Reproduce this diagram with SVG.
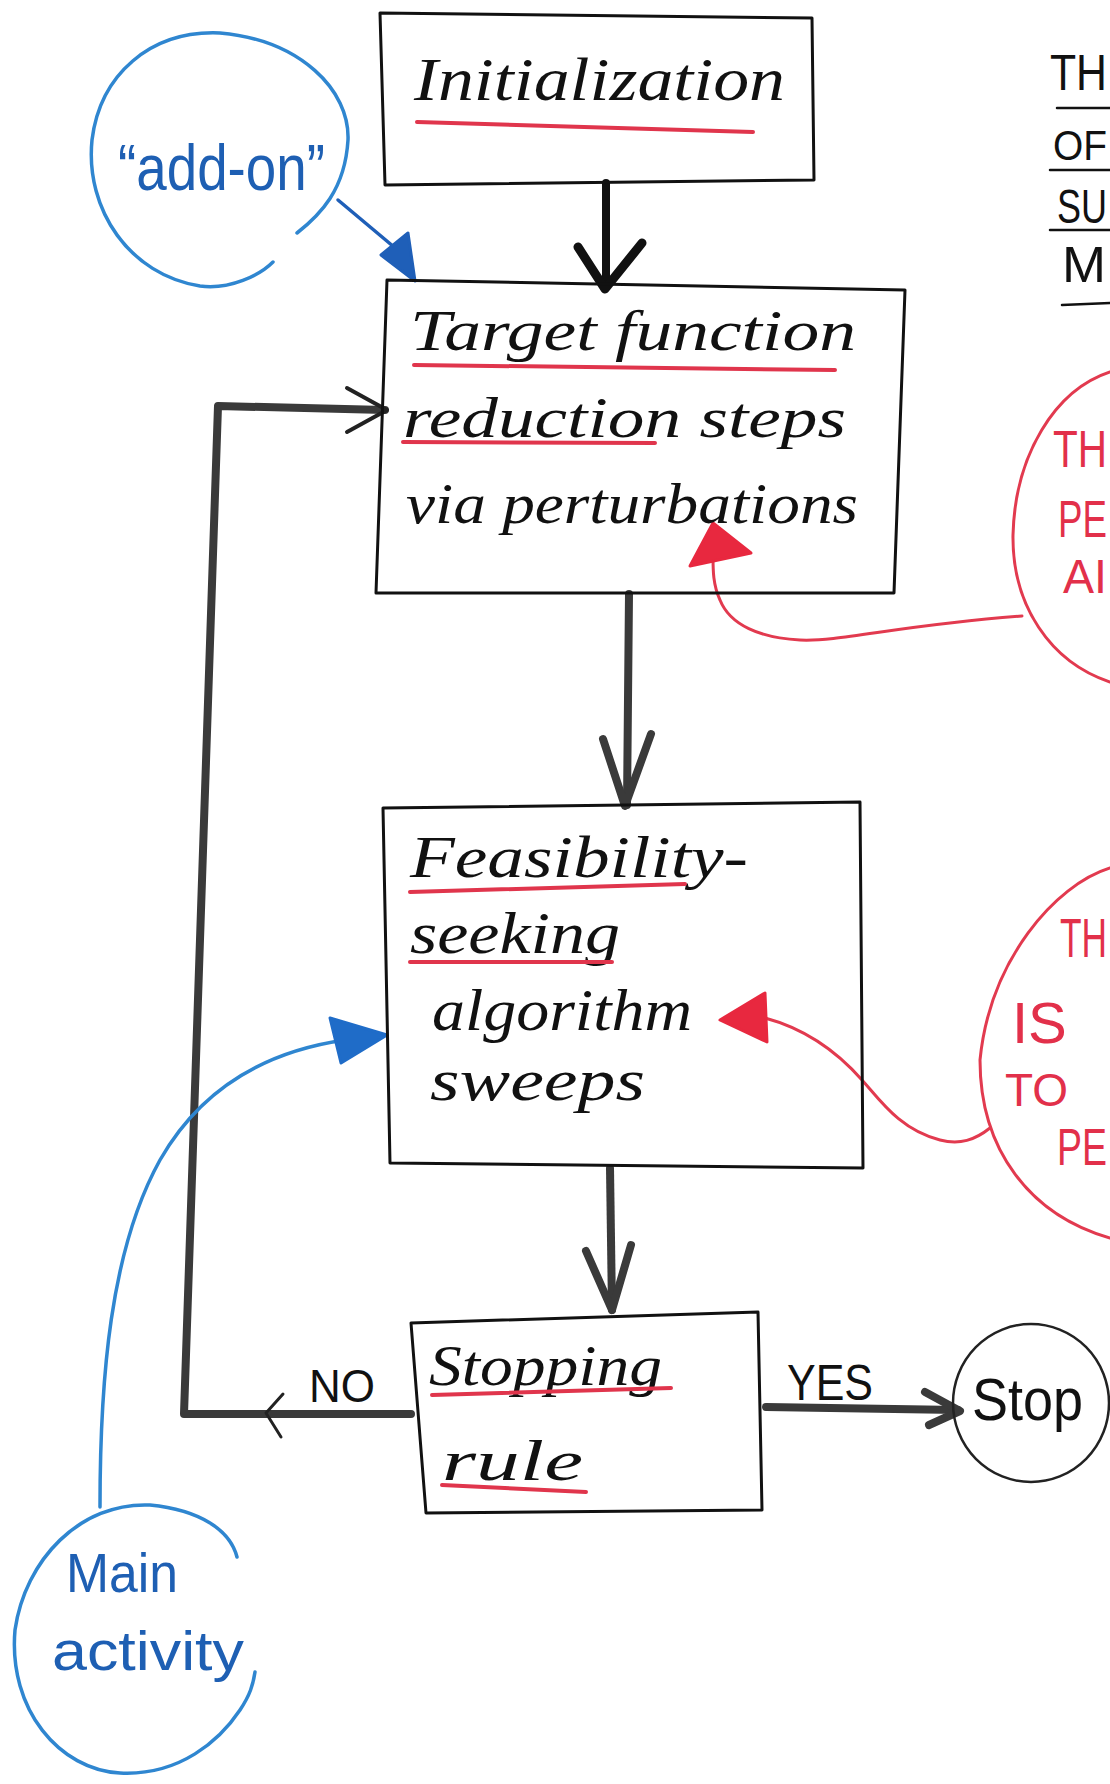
<svg xmlns="http://www.w3.org/2000/svg" width="1110" height="1784" viewBox="0 0 1110 1784">
<style>
.box{fill:none;stroke:#111;stroke-width:3;stroke-linejoin:round}
.hand{font-family:"Liberation Serif","DejaVu Serif",serif;font-style:italic;fill:#111}
.ul{stroke:#e0354c;stroke-width:4;stroke-linecap:round;fill:none}
.redt{font-family:"Liberation Sans","DejaVu Sans",sans-serif;fill:#e2304a}
.redl{fill:none;stroke:#e23a4f;stroke-width:3;stroke-linecap:round}
.bluel{fill:none;stroke:#2f86d0;stroke-width:3.5;stroke-linecap:round}
.bluet{font-family:"Liberation Sans","DejaVu Sans",sans-serif;fill:#1e5fb3}
.blk{font-family:"Liberation Sans","DejaVu Sans",sans-serif;fill:#111}
.conn{fill:none;stroke:#3a3a3a;stroke-width:8;stroke-linecap:round;stroke-linejoin:round}
.thin{fill:none;stroke:#222;stroke-width:3;stroke-linecap:round;stroke-linejoin:round}
.tl{stroke:#111;stroke-width:2.5;stroke-linecap:round}
</style>
<rect width="1110" height="1784" fill="#fff"/>

<g id="connectors">
  <!-- Init -> Target -->
  <path class="conn" d="M606,183 L606,286" style="stroke:#111"/>
  <path class="conn" d="M578,247 L605,289 L642,243" style="stroke:#111;stroke-width:9"/>
  <!-- Target -> Feasibility -->
  <path class="conn" d="M629,594 L627,805"/>
  <path class="conn" d="M603,739 L625,806 L651,734"/>
  <!-- Feasibility -> Stopping -->
  <path class="conn" d="M610,1168 L612,1310"/>
  <path class="conn" d="M586,1251 L612,1310 L631,1245"/>
  <!-- NO loop back -->
  <path class="conn" d="M411,1414 L184,1414 L218,406 L385,410"/>
  <path class="thin" d="M283,1394 L266,1413 L281,1437"/>
  <path class="thin" d="M347,388 L387,410 L347,432" style="stroke-width:4"/>
  <!-- YES -->
  <path class="conn" d="M766,1407 L958,1410"/>
  <path class="conn" d="M925,1392 L960,1411 L929,1425"/>
  <!-- red arrow 1 -->
  <path class="redl" d="M1022,616 C 900,625 840,642 800,640 C 760,638 730,625 720,600 C 713,585 713,570 713,556"/>
  <polygon points="713,523 690,566 751,553" fill="#e8283f" stroke="#e8283f" stroke-width="3" stroke-linejoin="round"/>
  <!-- red arrow 2 -->
  <path class="redl" d="M990,1128 C 975,1140 960,1145 940,1140 C 900,1130 880,1100 862,1080 C 840,1055 810,1030 765,1018"/>
  <polygon points="720,1020 765,993 767,1042" fill="#e8283f" stroke="#e8283f" stroke-width="3" stroke-linejoin="round"/>
  <!-- blue add-on arrow -->
  <path class="bluel" d="M338,200 L394,247" style="stroke:#1f5fb8"/>
  <polygon points="381,255 408,233 415,281" fill="#1f5fb8" stroke="#1f5fb8" stroke-width="3" stroke-linejoin="round"/>
  <!-- blue main activity arrow -->
  <path class="bluel" d="M100,1507 C 100,1380 110,1250 160,1160 C 200,1090 262,1052 345,1040"/>
  <polygon points="387,1035 330,1018 341,1063" fill="#1f6cc8" stroke="#1f6cc8" stroke-width="3" stroke-linejoin="round"/>
</g>

<g id="init">
  <polygon class="box" points="380,13 812,18 814,180 385,185"/>
  <text class="hand" x="414" y="100" font-size="62" textLength="371" lengthAdjust="spacingAndGlyphs">Initialization</text>
  <path class="ul" d="M417,122 L753,132"/>
</g>

<g id="target">
  <polygon class="box" points="387,280 905,290 894,593 376,593"/>
  <text class="hand" x="410" y="350" font-size="56" textLength="446" lengthAdjust="spacingAndGlyphs">Target function</text>
  <text class="hand" x="403" y="437" font-size="56" textLength="443" lengthAdjust="spacingAndGlyphs">reduction steps</text>
  <text class="hand" x="406" y="523" font-size="56" textLength="452" lengthAdjust="spacingAndGlyphs">via perturbations</text>
  <path class="ul" d="M414,365 L835,370"/>
  <path class="ul" d="M403,442 L655,443"/>
</g>

<g id="feasibility">
  <polygon class="box" points="383,808 860,802 863,1168 390,1163"/>
  <text class="hand" x="410" y="877" font-size="60" textLength="338" lengthAdjust="spacingAndGlyphs">Feasibility-</text>
  <text class="hand" x="410" y="953" font-size="60" textLength="210" lengthAdjust="spacingAndGlyphs">seeking</text>
  <text class="hand" x="432" y="1030" font-size="60" textLength="260" lengthAdjust="spacingAndGlyphs">algorithm</text>
  <text class="hand" x="430" y="1100" font-size="60" textLength="215" lengthAdjust="spacingAndGlyphs">sweeps</text>
  <path class="ul" d="M410,892 L685,884"/>
  <path class="ul" d="M410,962 L612,962"/>
</g>

<g id="stopping-rule">
  <polygon class="box" points="411,1323 758,1312 762,1510 426,1513"/>
  <text class="hand" x="429" y="1385" font-size="58" textLength="233" lengthAdjust="spacingAndGlyphs">Stopping</text>
  <text class="hand" x="442" y="1480" font-size="58" textLength="141" lengthAdjust="spacingAndGlyphs">rule</text>
  <path class="ul" d="M432,1395 L671,1388"/>
  <path class="ul" d="M442,1485 L586,1492"/>
</g>

<g id="labels">
  <text class="blk" x="309" y="1402" font-size="46" textLength="66" lengthAdjust="spacingAndGlyphs">NO</text>
  <text class="blk" x="787" y="1400" font-size="50" textLength="86" lengthAdjust="spacingAndGlyphs">YES</text>
</g>

<g id="stop">
  <ellipse cx="1031" cy="1403" rx="78" ry="79" fill="none" stroke="#222" stroke-width="2.5"/>
  <text class="blk" x="972" y="1420" font-size="60" textLength="111" lengthAdjust="spacingAndGlyphs">Stop</text>
</g>

<g id="add-on">
  <path class="bluel" d="M297,233 C 320,215 345,190 348,140 C 350,90 300,40 220,33 C 150,30 100,75 92,140 C 85,210 130,275 200,286 C 230,290 260,275 273,262"/>
  <text class="bluet" x="118" y="190" font-size="64" textLength="207" lengthAdjust="spacingAndGlyphs">“add-on”</text>
</g>

<g id="main-activity">
  <path class="bluel" d="M237,1557 C 230,1530 200,1510 150,1505 C 80,1502 25,1560 15,1630 C 8,1710 60,1770 120,1773 C 180,1776 220,1740 240,1710 C 250,1695 253,1685 255,1672"/>
  <text class="bluet" x="66" y="1592" font-size="56" textLength="112" lengthAdjust="spacingAndGlyphs">Main</text>
  <text class="bluet" x="52" y="1670" font-size="56" textLength="192" lengthAdjust="spacingAndGlyphs">activity</text>
</g>

<g id="title-note">
  <text class="blk" x="1050" y="90" font-size="50" textLength="57" lengthAdjust="spacingAndGlyphs">TH</text>
  <text class="blk" x="1053" y="160" font-size="42" textLength="54" lengthAdjust="spacingAndGlyphs">OF</text>
  <text class="blk" x="1057" y="223" font-size="48" textLength="50" lengthAdjust="spacingAndGlyphs">SU</text>
  <text class="blk" x="1062" y="282" font-size="50" textLength="44" lengthAdjust="spacingAndGlyphs">M</text>
  <path class="tl" d="M1057,108 L1110,108"/>
  <path class="tl" d="M1050,170 L1110,170"/>
  <path class="tl" d="M1050,230 L1110,230"/>
  <path class="tl" d="M1062,305 L1110,303"/>
</g>

<g id="note-perturbations">
  <path class="redl" d="M1110,372 C 1055,390 1015,455 1013,535 C 1012,605 1050,662 1110,682"/>
  <text class="redt" x="1053" y="467" font-size="52" textLength="54" lengthAdjust="spacingAndGlyphs">TH</text>
  <text class="redt" x="1058" y="537" font-size="52" textLength="49" lengthAdjust="spacingAndGlyphs">PE</text>
  <text class="redt" x="1063" y="593" font-size="48" textLength="44" lengthAdjust="spacingAndGlyphs">AI</text>
</g>

<g id="note-feasibility">
  <path class="redl" d="M1110,868 C 1055,885 990,960 980,1060 C 980,1150 1030,1215 1110,1238"/>
  <text class="redt" x="1060" y="957" font-size="56" textLength="47" lengthAdjust="spacingAndGlyphs">TH</text>
  <text class="redt" x="1012" y="1043" font-size="58">IS</text>
  <text class="redt" x="1005" y="1106" font-size="46">TO</text>
  <text class="redt" x="1057" y="1165" font-size="52" textLength="50" lengthAdjust="spacingAndGlyphs">PE</text>
</g>
</svg>
